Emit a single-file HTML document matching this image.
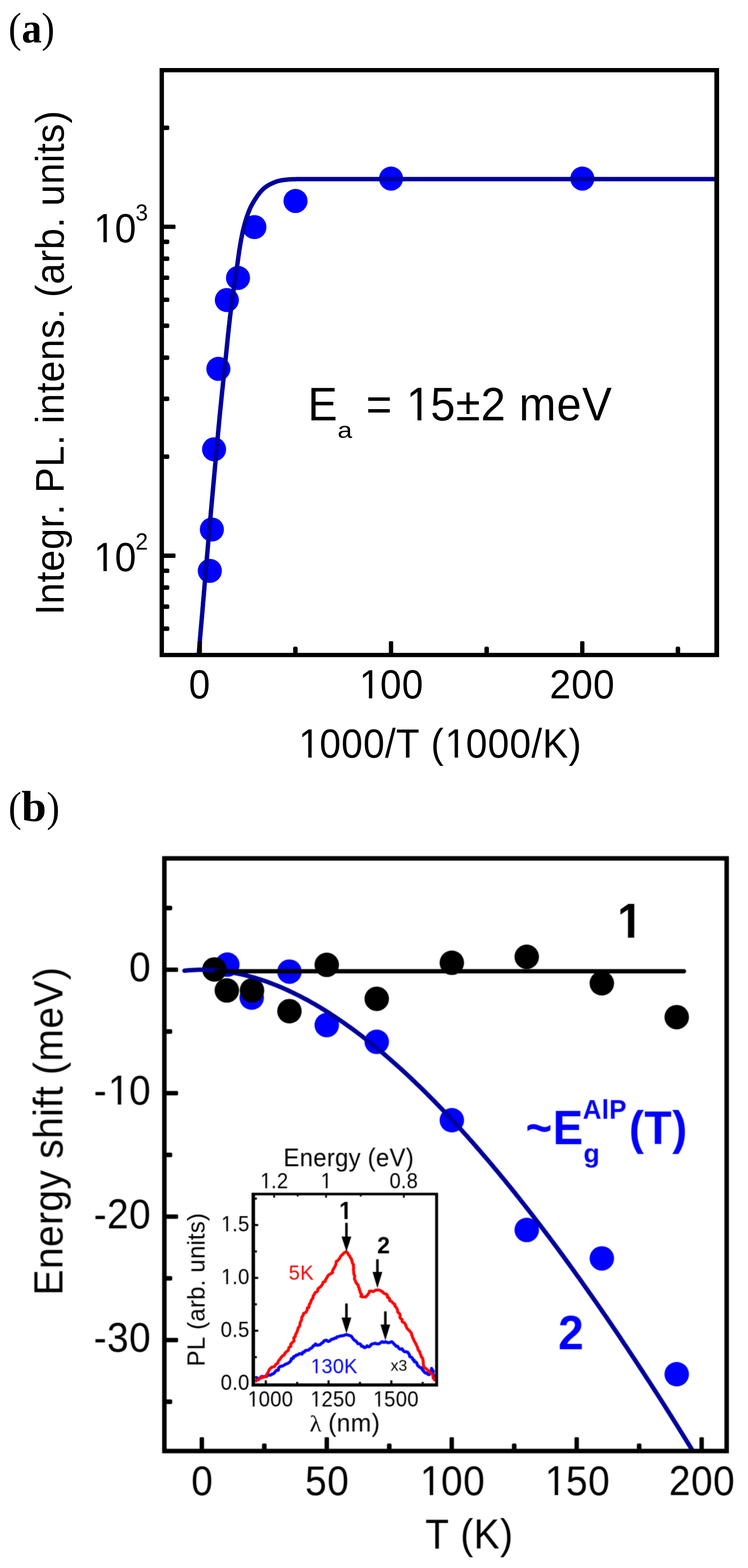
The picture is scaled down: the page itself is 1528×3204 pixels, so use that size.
<!DOCTYPE html>
<html lang="en"><head><meta charset="utf-8"><title>Figure</title>
<style>html,body{margin:0;padding:0;background:#fff}svg{display:block}</style></head>
<body>
<svg width="1528" height="3204" viewBox="0 0 1528 3204">
<rect width="1528" height="3204" fill="#fff"/>
<text font-family="'Liberation Serif', serif" fill="#000"><tspan x="17.17" y="86.46" font-size="86.11" font-weight="normal" textLength="26.69" lengthAdjust="spacingAndGlyphs">(</tspan><tspan x="44.27" y="86.53" font-size="86.85" font-weight="bold" textLength="41.17" lengthAdjust="spacingAndGlyphs">a</tspan><tspan x="85.05" y="86.46" font-size="86.11" font-weight="normal" textLength="26.56" lengthAdjust="spacingAndGlyphs">)</tspan></text>
<text font-family="'Liberation Serif', serif" fill="#000"><tspan x="17.17" y="1677.61" font-size="86.33" font-weight="normal" textLength="26.69" lengthAdjust="spacingAndGlyphs">(</tspan><tspan x="43.81" y="1678.30" font-size="89.91" font-weight="bold" textLength="50.97" lengthAdjust="spacingAndGlyphs">b</tspan><tspan x="95.15" y="1677.61" font-size="86.33" font-weight="normal" textLength="26.56" lengthAdjust="spacingAndGlyphs">)</tspan></text>
<g id="panelA">
<clipPath id="clipA"><rect x="330.45" y="143.45" width="1133.7" height="1194.8999999999999"/></clipPath>
<circle cx="1189.6" cy="364.9" r="24.6" fill="#0000ff"/>
<circle cx="798.8" cy="364.9" r="24.6" fill="#0000ff"/>
<circle cx="603.7" cy="410.7" r="24.6" fill="#0000ff"/>
<circle cx="519.7" cy="464.0" r="24.6" fill="#0000ff"/>
<circle cx="486.2" cy="567.9" r="24.6" fill="#0000ff"/>
<circle cx="463.4" cy="613.1" r="24.6" fill="#0000ff"/>
<circle cx="446.1" cy="753.7" r="24.6" fill="#0000ff"/>
<circle cx="437.3" cy="918.1" r="24.6" fill="#0000ff"/>
<circle cx="432.8" cy="1082.0" r="24.6" fill="#0000ff"/>
<circle cx="428.6" cy="1166.5" r="24.6" fill="#0000ff"/>
<polyline points="403.4,1370.0 403.7,1366.0 404.1,1362.0 404.4,1358.0 404.7,1354.0 405.0,1350.0 405.3,1346.0 405.7,1342.0 406.0,1338.0 406.3,1334.0 406.6,1330.0 406.9,1326.0 407.2,1322.0 407.5,1318.0 407.8,1314.0 408.2,1310.0 408.5,1306.0 408.8,1302.0 409.2,1298.0 409.5,1294.0 409.9,1290.0 410.2,1286.0 410.6,1282.0 410.9,1278.0 411.3,1274.0 411.6,1270.0 412.0,1266.0 412.3,1262.0 412.7,1258.0 413.0,1254.0 413.4,1250.0 413.7,1246.0 414.0,1242.0 414.4,1238.0 414.7,1234.0 415.0,1230.0 415.4,1226.0 415.7,1222.0 416.1,1218.0 416.4,1214.0 416.7,1210.0 417.1,1206.0 417.4,1202.0 417.7,1198.0 418.1,1194.0 418.4,1190.0 418.7,1186.0 419.1,1182.0 419.4,1178.0 419.8,1174.0 420.1,1170.0 420.4,1166.0 420.8,1162.0 421.1,1158.0 421.5,1154.0 421.8,1150.0 422.1,1146.0 422.5,1142.0 422.8,1138.0 423.2,1134.0 423.5,1130.0 423.9,1126.0 424.2,1122.0 424.5,1118.0 424.9,1114.0 425.2,1110.0 425.6,1106.0 425.9,1102.0 426.3,1098.0 426.6,1094.0 427.0,1090.0 427.3,1086.0 427.7,1082.0 428.0,1078.0 428.4,1074.0 428.7,1070.0 429.1,1066.0 429.5,1062.0 429.8,1058.0 430.2,1054.0 430.5,1050.0 430.9,1046.0 431.2,1042.0 431.6,1038.0 432.0,1034.0 432.3,1030.0 432.7,1026.0 433.0,1022.0 433.4,1018.0 433.8,1014.0 434.1,1010.0 434.5,1006.0 434.8,1002.0 435.2,998.0 435.6,994.0 435.9,990.0 436.3,986.0 436.7,982.0 437.0,978.0 437.4,974.0 437.8,970.0 438.1,966.0 438.5,962.0 438.9,958.0 439.2,954.0 439.6,950.0 440.0,946.0 440.3,942.0 440.7,938.0 441.0,934.0 441.4,930.0 441.8,926.0 442.1,922.0 442.5,918.0 442.9,914.0 443.2,910.0 443.6,906.0 444.0,902.0 444.3,898.0 444.7,894.0 445.1,890.0 445.4,886.0 445.8,882.0 446.2,878.0 446.5,874.0 446.9,870.0 447.3,866.0 447.7,862.0 448.0,858.0 448.4,854.0 448.8,850.0 449.2,846.0 449.6,842.0 450.0,838.0 450.4,834.0 450.8,830.0 451.2,826.0 451.6,822.0 452.0,818.0 452.4,814.0 452.8,810.0 453.2,806.0 453.6,802.0 454.0,798.0 454.5,794.0 454.9,790.0 455.3,786.0 455.7,782.0 456.2,778.0 456.6,774.0 457.0,770.0 457.4,766.0 457.9,762.0 458.3,758.0 458.7,754.0 459.1,750.0 459.6,746.0 460.0,742.0 460.4,738.0 460.8,734.0 461.2,730.0 461.7,726.0 462.1,722.0 462.5,718.0 462.9,714.0 463.3,710.0 463.7,706.0 464.1,702.0 464.5,698.0 464.9,694.0 465.3,690.0 465.7,686.0 466.1,682.0 466.6,678.0 467.0,674.0 467.4,670.0 467.8,666.0 468.3,662.0 468.7,658.0 469.2,654.0 469.6,650.0 470.1,646.0 470.6,642.0 471.1,638.0 471.5,634.0 472.0,630.0 472.6,626.0 473.1,622.0 473.6,618.0 474.2,614.0 474.7,610.0 475.3,606.0 475.8,602.0 476.4,598.0 477.0,594.0 477.6,590.0 478.1,586.0 478.7,582.0 479.3,578.0 479.9,574.0 480.5,570.0 481.1,566.0 481.7,562.0 482.3,558.0 482.9,554.0 483.5,550.0 484.0,546.0 484.6,542.0 485.2,538.0 485.7,534.0 486.3,530.0 486.8,526.0 487.4,522.0 488.0,518.0 488.5,514.0 489.1,510.0 489.8,506.0 490.4,502.0 491.1,498.0 491.8,494.0 492.5,490.0 493.3,486.0 494.1,482.0 494.9,478.0 495.7,474.0 496.6,470.0 497.6,466.0 498.6,462.0 499.7,458.0 500.8,454.0 502.0,450.0 503.3,446.0 504.6,442.0 506.0,438.0 507.5,434.0 509.1,430.0 510.8,426.0 512.1,423.0 513.6,420.2 515.1,417.5 516.6,414.8 518.1,412.2 519.6,409.7 521.1,407.3 522.6,405.0 524.1,402.8 525.6,400.6 527.1,398.5 528.6,396.4 530.1,394.5 531.6,392.7 533.1,391.0 534.6,389.4 536.1,387.9 537.6,386.4 539.1,385.0 540.6,383.7 542.1,382.5 543.6,381.4 545.1,380.4 546.6,379.4 548.1,378.5 549.6,377.7 551.1,376.9 552.6,376.2 554.1,375.4 555.6,374.8 557.1,374.1 558.6,373.4 560.1,372.8 561.6,372.2 563.1,371.6 564.6,371.0 566.1,370.5 567.6,370.1 569.1,369.7 570.6,369.4 572.1,369.0 573.6,368.7 575.1,368.5 576.6,368.2 578.1,368.0 579.6,367.8 581.1,367.6 582.6,367.5 584.1,367.3 585.6,367.1 587.1,367.0 588.6,366.8 590.1,366.7 591.6,366.6 593.1,366.5 594.6,366.4 596.1,366.3 597.6,366.3 599.1,366.3 600.6,366.2 602.1,366.2 603.6,366.2 605.1,366.1 606.6,366.1 608.1,366.1 609.6,366.1 611.1,366.1 612.6,366.1 614.1,366.0 615.6,366.0 617.1,366.0 618.6,366.0 620.1,366.0 621.6,366.0 623.1,366.0 624.6,366.0 626.1,366.0 627.6,366.0 629.1,366.0 630.6,366.0 632.1,366.0 633.6,366.0 635.1,366.0 636.6,366.0 638.1,366.0 639.6,366.0 1470.0,366.0" fill="none" stroke="#00009b" stroke-width="9.0" stroke-linejoin="round" stroke-linecap="butt" clip-path="url(#clipA)"/>
<rect x="332.85" y="1131.10" width="25.70" height="8.80" rx="1.8" ry="1.8" fill="#000"/>
<rect x="332.85" y="459.00" width="25.70" height="8.80" rx="1.8" ry="1.8" fill="#000"/>
<rect x="332.85" y="1280.00" width="13.00" height="9.20" rx="3.2" ry="3.2" fill="#000"/>
<rect x="332.85" y="1235.01" width="13.00" height="9.20" rx="3.2" ry="3.2" fill="#000"/>
<rect x="332.85" y="1196.03" width="13.00" height="9.20" rx="3.2" ry="3.2" fill="#000"/>
<rect x="332.85" y="1161.65" width="13.00" height="9.20" rx="3.2" ry="3.2" fill="#000"/>
<rect x="332.85" y="928.58" width="13.00" height="9.20" rx="3.2" ry="3.2" fill="#000"/>
<rect x="332.85" y="810.23" width="13.00" height="9.20" rx="3.2" ry="3.2" fill="#000"/>
<rect x="332.85" y="726.26" width="13.00" height="9.20" rx="3.2" ry="3.2" fill="#000"/>
<rect x="332.85" y="661.12" width="13.00" height="9.20" rx="3.2" ry="3.2" fill="#000"/>
<rect x="332.85" y="607.90" width="13.00" height="9.20" rx="3.2" ry="3.2" fill="#000"/>
<rect x="332.85" y="562.91" width="13.00" height="9.20" rx="3.2" ry="3.2" fill="#000"/>
<rect x="332.85" y="523.93" width="13.00" height="9.20" rx="3.2" ry="3.2" fill="#000"/>
<rect x="332.85" y="489.55" width="13.00" height="9.20" rx="3.2" ry="3.2" fill="#000"/>
<rect x="332.85" y="256.48" width="13.00" height="9.20" rx="3.2" ry="3.2" fill="#000"/>
<rect x="403.70" y="1310.35" width="8.80" height="25.60" rx="1.8" ry="1.8" fill="#000"/>
<rect x="794.40" y="1310.35" width="8.80" height="25.60" rx="1.8" ry="1.8" fill="#000"/>
<rect x="1185.10" y="1310.35" width="8.80" height="25.60" rx="1.8" ry="1.8" fill="#000"/>
<rect x="598.85" y="1321.35" width="9.20" height="14.60" rx="3.6" ry="3.6" fill="#000"/>
<rect x="989.55" y="1321.35" width="9.20" height="14.60" rx="3.6" ry="3.6" fill="#000"/>
<rect x="1380.25" y="1321.35" width="9.20" height="14.60" rx="3.6" ry="3.6" fill="#000"/>
<path d="M326,139.1H1469V1342.7H326Z M334.9,147.8V1334H1459.3V147.8Z" fill="#000" fill-rule="evenodd"/>
<text xml:space="preserve" style="white-space:pre" transform="translate(385.81,1427.00) scale(0.9341,1)" x="0.00" y="0" font-family="'Liberation Sans', sans-serif" font-size="83.5" font-weight="normal" fill="#000" >0</text>
<text xml:space="preserve" style="white-space:pre" transform="translate(733.94,1427.00) scale(0.9341,1)" x="0.00 45.57 93.20" y="0" font-family="'Liberation Sans', sans-serif" font-size="83.5" font-weight="normal" fill="#000" >100</text>
<text xml:space="preserve" style="white-space:pre" transform="translate(1122.72,1427.00) scale(0.9341,1)" x="0.00 47.63 95.26" y="0" font-family="'Liberation Sans', sans-serif" font-size="83.5" font-weight="normal" fill="#000" >200</text>
<text xml:space="preserve" style="white-space:pre" transform="translate(609.99,1548.00) scale(0.9433,1)" x="0.00 45.30 92.65 139.99 187.04 211.04 262.69 286.40 317.03 362.33 409.67 457.02 504.07 528.13 584.56" y="0" font-family="'Liberation Sans', sans-serif" font-size="83" font-weight="normal" fill="#000" >1000/T (1000/K)</text>
<text xml:space="preserve" style="white-space:pre" transform="translate(191.55,494.50) scale(0.9456,1)" x="0.00 45.30" y="0" font-family="'Liberation Sans', sans-serif" font-size="83" font-weight="normal" fill="#000" >10</text>
<text xml:space="preserve" style="white-space:pre" transform="translate(276.83,450.60) scale(0.9448,1)" x="0.00" y="0" font-family="'Liberation Sans', sans-serif" font-size="48.5" font-weight="normal" fill="#000" >3</text>
<text xml:space="preserve" style="white-space:pre" transform="translate(191.55,1166.60) scale(0.9456,1)" x="0.00 45.30" y="0" font-family="'Liberation Sans', sans-serif" font-size="83" font-weight="normal" fill="#000" >10</text>
<text xml:space="preserve" style="white-space:pre" transform="translate(276.83,1122.70) scale(0.9448,1)" x="0.00" y="0" font-family="'Liberation Sans', sans-serif" font-size="48.5" font-weight="normal" fill="#000" >2</text>
<text xml:space="preserve" style="white-space:pre" transform="rotate(-90 129.60 1257.00) translate(129.88,1257.00) scale(0.9506,1)" x="0.00 23.66 70.14 93.80 140.57 187.11 215.06 238.43 262.20 318.18 364.66 388.03 411.34 430.37 476.85 500.51 547.29 594.00 635.82 659.19 682.61 710.85 757.39 785.63 832.11 855.48 879.14 925.91 972.34 991.08 1014.68 1056.56" y="0" font-family="'Liberation Sans', sans-serif" font-size="82" font-weight="normal" fill="#000" >Integr. PL. intens. (arb. units)</text>
<text xml:space="preserve" style="white-space:pre" transform="translate(628.78,858.60) scale(0.9396,1)" x="0.00" y="0" font-family="'Liberation Sans', sans-serif" font-size="96.5" font-weight="normal" fill="#000" >E</text>
<text xml:space="preserve" style="white-space:pre" transform="translate(689.61,894.60) scale(1.1410,1)" x="0.00" y="0" font-family="'Liberation Sans', sans-serif" font-size="47" font-weight="normal" fill="#000" >a</text>
<text xml:space="preserve" style="white-space:pre" transform="translate(721.50,858.60) scale(0.9396,1)" x="0.00 27.88 85.30 115.52 168.19 223.22 277.55 332.25 360.44 442.54 497.72" y="0" font-family="'Liberation Sans', sans-serif" font-size="96.5" font-weight="normal" fill="#000" > = 15±2 meV</text>
<rect x="738.38" y="1419.46" width="15.17" height="8.54" fill="#fff"/>
<rect x="760.45" y="1419.46" width="14.56" height="8.54" fill="#fff"/>
<rect x="614.45" y="1540.50" width="15.22" height="8.50" fill="#fff"/>
<rect x="636.59" y="1540.50" width="14.61" height="8.50" fill="#fff"/>
<rect x="913.50" y="1540.50" width="15.22" height="8.50" fill="#fff"/>
<rect x="935.64" y="1540.50" width="14.61" height="8.50" fill="#fff"/>
<rect x="196.03" y="487.00" width="15.26" height="8.50" fill="#fff"/>
<rect x="218.22" y="487.00" width="14.65" height="8.50" fill="#fff"/>
<rect x="196.03" y="1159.10" width="15.26" height="8.50" fill="#fff"/>
<rect x="218.22" y="1159.10" width="14.65" height="8.50" fill="#fff"/>
<rect x="835.45" y="850.09" width="17.39" height="9.51" fill="#fff"/>
<rect x="860.86" y="850.09" width="16.69" height="9.51" fill="#fff"/>
</g>
<filter id="soft" x="-2%" y="-2%" width="104%" height="104%" color-interpolation-filters="sRGB"><feGaussianBlur stdDeviation="1" result="b"/><feComposite in="SourceGraphic" in2="b" operator="arithmetic" k1="0" k2="0.5" k3="0.5" k4="0"/></filter>
<g id="panelB" filter="url(#soft)">
<clipPath id="clipB"><rect x="335.8" y="1754.0" width="1148.6000000000001" height="1211.0"/></clipPath>
<circle cx="464.4" cy="1971.1" r="25.0" fill="#0000ff"/>
<circle cx="514.2" cy="2038.5" r="25.0" fill="#0000ff"/>
<circle cx="591.3" cy="1985.4" r="25.0" fill="#0000ff"/>
<circle cx="667.5" cy="2094.6" r="25.0" fill="#0000ff"/>
<circle cx="769.6" cy="2128.8" r="25.0" fill="#0000ff"/>
<circle cx="923.0" cy="2289.0" r="25.0" fill="#0000ff"/>
<circle cx="1076.0" cy="2513.3" r="25.0" fill="#0000ff"/>
<circle cx="1229.4" cy="2571.4" r="25.0" fill="#0000ff"/>
<circle cx="1382.4" cy="2808.0" r="25.0" fill="#0000ff"/>
<circle cx="438.0" cy="1980.9" r="25.0" fill="#000"/>
<circle cx="463.4" cy="2023.8" r="25.0" fill="#000"/>
<circle cx="514.8" cy="2023.8" r="25.0" fill="#000"/>
<circle cx="591.3" cy="2066.2" r="25.0" fill="#000"/>
<circle cx="667.5" cy="1971.6" r="25.0" fill="#000"/>
<circle cx="769.6" cy="2040.9" r="25.0" fill="#000"/>
<circle cx="923.0" cy="1967.3" r="25.0" fill="#000"/>
<circle cx="1076.0" cy="1955.1" r="25.0" fill="#000"/>
<circle cx="1229.4" cy="2009.2" r="25.0" fill="#000"/>
<circle cx="1382.4" cy="2078.4" r="25.0" fill="#000"/>
<polyline points="376.8,1983.5 381.9,1983.0 387.0,1982.6 392.1,1982.2 397.2,1981.9 402.3,1981.7 407.5,1981.6 412.6,1981.6 417.7,1981.6 422.8,1981.8 427.9,1982.0 433.0,1982.2 438.1,1982.6 443.2,1983.0 448.3,1983.5 453.4,1984.1 458.5,1984.7 463.6,1985.4 468.7,1986.2 473.8,1987.0 478.9,1988.0 484.0,1989.0 489.1,1990.0 494.2,1991.2 499.3,1992.4 504.4,1993.6 509.6,1995.0 514.7,1996.4 519.8,1997.8 524.9,1999.4 530.0,2001.0 535.1,2002.6 540.2,2004.3 545.3,2006.1 550.4,2008.0 555.5,2009.9 560.6,2011.9 565.7,2013.9 570.8,2016.0 575.9,2018.2 581.0,2020.4 586.1,2022.7 591.2,2025.1 596.3,2027.5 601.4,2029.9 606.5,2032.5 611.7,2035.0 616.8,2037.7 621.9,2040.4 627.0,2043.1 632.1,2045.9 637.2,2048.8 642.3,2051.7 647.4,2054.7 652.5,2057.7 657.6,2060.8 662.7,2063.9 667.8,2067.1 672.9,2070.4 678.0,2073.7 683.1,2077.0 688.2,2080.4 693.3,2083.9 698.4,2087.4 703.5,2090.9 708.6,2094.6 713.8,2098.2 718.9,2101.9 724.0,2105.7 729.1,2109.5 734.2,2113.3 739.3,2117.3 744.4,2121.2 749.5,2125.2 754.6,2129.3 759.7,2133.4 764.8,2137.5 769.9,2141.7 775.0,2145.9 780.1,2150.2 785.2,2154.5 790.3,2158.9 795.4,2163.3 800.5,2167.8 805.6,2172.3 810.7,2176.9 815.9,2181.5 821.0,2186.1 826.1,2190.8 831.2,2195.5 836.3,2200.3 841.4,2205.1 846.5,2210.0 851.6,2214.9 856.7,2219.8 861.8,2224.8 866.9,2229.8 872.0,2234.9 877.1,2240.0 882.2,2245.2 887.3,2250.3 892.4,2255.6 897.5,2260.8 902.6,2266.2 907.7,2271.5 912.8,2276.9 918.0,2282.3 923.1,2287.8 928.2,2293.3 933.3,2298.8 938.4,2304.4 943.5,2310.0 948.6,2315.7 953.7,2321.3 958.8,2327.1 963.9,2332.8 969.0,2338.6 974.1,2344.5 979.2,2350.3 984.3,2356.3 989.4,2362.2 994.5,2368.2 999.6,2374.2 1004.7,2380.2 1009.8,2386.3 1014.9,2392.4 1020.1,2398.6 1025.2,2404.8 1030.3,2411.0 1035.4,2417.3 1040.5,2423.5 1045.6,2429.9 1050.7,2436.2 1055.8,2442.6 1060.9,2449.0 1066.0,2455.5 1071.1,2462.0 1076.2,2468.5 1081.3,2475.0 1086.4,2481.6 1091.5,2488.2 1096.6,2494.9 1101.7,2501.5 1106.8,2508.3 1111.9,2515.0 1117.0,2521.8 1122.2,2528.6 1127.3,2535.4 1132.4,2542.2 1137.5,2549.1 1142.6,2556.0 1147.7,2563.0 1152.8,2570.0 1157.9,2577.0 1163.0,2584.0 1168.1,2591.1 1173.2,2598.2 1178.3,2605.3 1183.4,2612.4 1188.5,2619.6 1193.6,2626.8 1198.7,2634.1 1203.8,2641.3 1208.9,2648.6 1214.0,2655.9 1219.1,2663.3 1224.3,2670.7 1229.4,2678.1 1234.5,2685.5 1239.6,2692.9 1244.7,2700.4 1249.8,2707.9 1254.9,2715.5 1260.0,2723.0 1265.1,2730.6 1270.2,2738.2 1275.3,2745.9 1280.4,2753.5 1285.5,2761.2 1290.6,2768.9 1295.7,2776.7 1300.8,2784.4 1305.9,2792.2 1311.0,2800.0 1316.1,2807.9 1321.2,2815.7 1326.4,2823.6 1331.5,2831.5 1336.6,2839.5 1341.7,2847.4 1346.8,2855.4 1351.9,2863.4 1357.0,2871.4 1362.1,2879.5 1367.2,2887.6 1372.3,2895.7 1377.4,2903.8 1382.5,2911.9 1387.6,2920.1 1392.7,2928.3 1397.8,2936.5 1402.9,2944.8 1408.0,2953.0 1413.1,2961.3 1418.2,2969.6 1423.3,2977.9 1428.5,2986.3" fill="none" stroke="#00009b" stroke-width="9.0" stroke-linejoin="round" stroke-linecap="round" clip-path="url(#clipB)"/>
<line x1="442.6" y1="1984.6" x2="1397.2" y2="1984.6" stroke="#000" stroke-width="8.8" stroke-linecap="round"/>
<rect x="338.40" y="1977.10" width="25.40" height="9.00" rx="2.2" ry="2.2" fill="#000"/>
<rect x="338.40" y="2229.30" width="25.40" height="9.00" rx="2.2" ry="2.2" fill="#000"/>
<rect x="338.40" y="2481.50" width="25.40" height="9.00" rx="2.2" ry="2.2" fill="#000"/>
<rect x="338.40" y="2733.70" width="25.40" height="9.00" rx="2.2" ry="2.2" fill="#000"/>
<rect x="338.40" y="1850.80" width="13.40" height="9.40" rx="3.2" ry="3.2" fill="#000"/>
<rect x="338.40" y="2103.00" width="13.40" height="9.40" rx="3.2" ry="3.2" fill="#000"/>
<rect x="338.40" y="2355.20" width="13.40" height="9.40" rx="3.2" ry="3.2" fill="#000"/>
<rect x="338.40" y="2607.40" width="13.40" height="9.40" rx="3.2" ry="3.2" fill="#000"/>
<rect x="338.40" y="2859.60" width="13.40" height="9.40" rx="3.2" ry="3.2" fill="#000"/>
<rect x="407.80" y="2936.80" width="9.00" height="25.60" rx="2.2" ry="2.2" fill="#000"/>
<rect x="663.05" y="2936.80" width="9.00" height="25.60" rx="2.2" ry="2.2" fill="#000"/>
<rect x="918.30" y="2936.80" width="9.00" height="25.60" rx="2.2" ry="2.2" fill="#000"/>
<rect x="1173.55" y="2936.80" width="9.00" height="25.60" rx="2.2" ry="2.2" fill="#000"/>
<rect x="1428.80" y="2936.80" width="9.00" height="25.60" rx="2.2" ry="2.2" fill="#000"/>
<rect x="535.23" y="2949.40" width="9.40" height="13.00" rx="3.4" ry="3.4" fill="#000"/>
<rect x="790.48" y="2949.40" width="9.40" height="13.00" rx="3.4" ry="3.4" fill="#000"/>
<rect x="1045.72" y="2949.40" width="9.40" height="13.00" rx="3.4" ry="3.4" fill="#000"/>
<rect x="1300.98" y="2949.40" width="9.40" height="13.00" rx="3.4" ry="3.4" fill="#000"/>
<rect x="335.8" y="1754.0" width="1148.6000000000001" height="1211.0" fill="none" stroke="#000" stroke-width="9.2"/>
<text xml:space="preserve" style="white-space:pre" transform="translate(390.64,3054.90) scale(0.9291,1)" x="0.00" y="0" font-family="'Liberation Sans', sans-serif" font-size="85" font-weight="normal" fill="#000" >0</text>
<text xml:space="preserve" style="white-space:pre" transform="translate(623.36,3054.90) scale(0.9291,1)" x="0.00 48.49" y="0" font-family="'Liberation Sans', sans-serif" font-size="85" font-weight="normal" fill="#000" >50</text>
<text xml:space="preserve" style="white-space:pre" transform="translate(858.03,3054.90) scale(0.9291,1)" x="0.00 46.39 94.88" y="0" font-family="'Liberation Sans', sans-serif" font-size="85" font-weight="normal" fill="#000" >100</text>
<text xml:space="preserve" style="white-space:pre" transform="translate(1113.28,3054.90) scale(0.9291,1)" x="0.00 46.39 94.88" y="0" font-family="'Liberation Sans', sans-serif" font-size="85" font-weight="normal" fill="#000" >150</text>
<text xml:space="preserve" style="white-space:pre" transform="translate(1366.59,3054.90) scale(0.9291,1)" x="0.00 48.49 96.97" y="0" font-family="'Liberation Sans', sans-serif" font-size="85" font-weight="normal" fill="#000" >200</text>
<text xml:space="preserve" style="white-space:pre" transform="translate(868.82,3163.70) scale(0.9291,1)" x="0.00 52.89 77.17 106.57 164.35" y="0" font-family="'Liberation Sans', sans-serif" font-size="85" font-weight="normal" fill="#000" >T (K)</text>
<text xml:space="preserve" style="white-space:pre" transform="translate(263.81,2005.20) scale(0.9291,1)" x="0.00" y="0" font-family="'Liberation Sans', sans-serif" font-size="85" font-weight="normal" fill="#000" >0</text>
<text xml:space="preserve" style="white-space:pre" transform="translate(191.57,2257.40) scale(0.9291,1)" x="0.00 31.37 77.76" y="0" font-family="'Liberation Sans', sans-serif" font-size="85" font-weight="normal" fill="#000" >-10</text>
<text xml:space="preserve" style="white-space:pre" transform="translate(191.57,2509.60) scale(0.9291,1)" x="0.00 29.27 77.76" y="0" font-family="'Liberation Sans', sans-serif" font-size="85" font-weight="normal" fill="#000" >-20</text>
<text xml:space="preserve" style="white-space:pre" transform="translate(191.57,2761.80) scale(0.9291,1)" x="0.00 29.27 77.76" y="0" font-family="'Liberation Sans', sans-serif" font-size="85" font-weight="normal" fill="#000" >-30</text>
<text xml:space="preserve" style="white-space:pre" transform="rotate(-90 127.50 2647.60) translate(128.18,2647.60) scale(0.9527,1)" x="0.00 56.66 104.01 151.11 179.70 226.98 269.31 293.20 335.82 382.81 401.78 425.43 449.09 472.80 501.68 572.29 619.76 676.18" y="0" font-family="'Liberation Sans', sans-serif" font-size="83" font-weight="normal" fill="#000" >Energy shift (meV)</text>
<text xml:space="preserve" style="white-space:pre" transform="translate(1260.89,1916.40) scale(0.9360,1)" x="0.00" y="0" font-family="'Liberation Sans', sans-serif" font-size="100" font-weight="bold" fill="#000" >1</text>
<text xml:space="preserve" style="white-space:pre" transform="translate(1140.27,2757.40) scale(0.9551,1)" x="0.00" y="0" font-family="'Liberation Sans', sans-serif" font-size="98" font-weight="bold" fill="#0000ff" >2</text>
<text xml:space="preserve" style="white-space:pre" transform="translate(1073.69,2338.30) scale(0.9356,1)" x="0.00 59.40" y="0" font-family="'Liberation Sans', sans-serif" font-size="99" font-weight="bold" fill="#0000ff" >~E</text>
<text xml:space="preserve" style="white-space:pre" transform="translate(1190.49,2286.20) scale(0.9486,1)" x="0.00 40.79 56.88" y="0" font-family="'Liberation Sans', sans-serif" font-size="55.5" font-weight="bold" fill="#0000ff" >AlP</text>
<text xml:space="preserve" style="white-space:pre" transform="translate(1284.89,2338.30) scale(0.9398,1)" x="0.00 33.48 93.90" y="0" font-family="'Liberation Sans', sans-serif" font-size="97" font-weight="bold" fill="#0000ff" >(T)</text>
<text xml:space="preserve" style="white-space:pre" transform="translate(1192.00,2375.00) scale(1.0000,1)" x="0.00" y="0" font-family="'Liberation Sans', sans-serif" font-size="54" font-weight="bold" fill="#0000ff" >g</text>
<clipPath id="clipI"><rect x="518.0" y="2439.9" width="374.0" height="390.0999999999999"/></clipPath>
<polyline points="521.4,2815.2 524.2,2814.8 526.2,2816.9 528.6,2818.2 531.7,2815.0 534.4,2812.5 538.0,2812.9 541.1,2812.9 544.2,2813.0 546.8,2810.4 549.8,2809.9 552.9,2809.8 555.3,2808.0 558.4,2807.0 560.7,2804.9 562.6,2802.4 564.7,2800.2 568.6,2799.9 568.9,2795.9 570.7,2793.5 573.6,2791.7 576.9,2791.3 579.7,2789.9 582.3,2788.1 585.3,2786.9 588.2,2785.8 590.7,2783.9 593.0,2782.1 594.6,2779.4 595.4,2776.0 599.1,2775.5 599.9,2772.0 603.2,2771.3 605.1,2768.9 608.2,2768.7 610.3,2766.6 613.2,2766.0 617.1,2767.0 618.5,2763.1 621.8,2762.6 624.0,2759.5 627.3,2759.1 630.6,2758.6 632.8,2756.3 635.5,2755.0 637.9,2753.1 639.6,2750.2 642.9,2749.0 644.5,2746.0 648.1,2749.1 652.3,2748.1 655.1,2746.9 657.2,2744.3 660.3,2742.9 661.9,2739.7 665.3,2738.7 667.2,2738.7 669.2,2740.7 671.8,2741.0 674.9,2739.0 677.3,2736.6 680.8,2736.2 683.5,2734.4 686.3,2734.4 688.2,2731.7 691.0,2731.5 693.5,2730.4 696.2,2729.9 699.1,2729.4 702.0,2729.0 704.7,2727.9 707.6,2727.1 711.1,2728.0 714.4,2729.2 717.8,2730.4 719.0,2732.2 720.7,2734.9 722.7,2737.4 725.0,2739.3 727.5,2740.7 729.3,2742.9 730.8,2745.4 734.2,2745.8 737.0,2747.2 738.4,2751.0 742.0,2751.4 744.3,2753.7 747.8,2752.7 749.8,2750.0 753.6,2752.1 756.1,2750.5 758.3,2747.2 761.3,2745.8 763.6,2745.5 766.3,2744.8 768.9,2745.7 771.6,2746.3 775.1,2745.4 777.9,2743.5 780.6,2741.4 784.0,2743.1 787.8,2741.6 790.8,2743.2 793.9,2743.7 797.2,2742.7 800.4,2741.6 803.1,2744.0 804.9,2746.4 807.1,2748.1 808.5,2750.6 812.1,2750.8 813.5,2753.3 815.1,2755.6 817.6,2756.9 821.4,2756.1 823.6,2759.8 826.4,2762.2 829.9,2762.2 832.9,2763.1 834.7,2765.7 836.4,2768.4 837.0,2772.1 840.4,2773.3 842.4,2775.1 843.1,2778.0 845.9,2779.2 846.2,2782.4 849.7,2783.1 851.3,2785.3 852.2,2788.1 853.5,2790.7 855.8,2792.3 857.8,2794.3 861.1,2795.1 862.4,2798.2 864.5,2800.8 866.6,2803.3 868.6,2805.4 871.6,2805.9 873.8,2808.1 876.7,2808.9 877.5,2806.2 878.9,2803.8 880.2,2801.4 881.7,2799.0 881.6,2796.0 883.3,2799.3 885.3,2802.1 883.9,2806.1 885.1,2809.2 888.0,2811.9 889.8,2815.0" fill="none" stroke="#0000ff" stroke-width="6.2" stroke-linejoin="round" stroke-linecap="butt" clip-path="url(#clipI)"/>
<polyline points="521.4,2823.7 523.1,2821.5 525.3,2819.9 528.3,2819.4 529.7,2816.3 532.8,2816.4 534.5,2813.8 538.4,2814.5 540.9,2812.5 544.1,2811.9 545.1,2807.9 547.3,2805.2 548.6,2802.0 550.0,2798.9 552.2,2796.3 554.5,2794.0 557.7,2793.1 560.8,2792.3 562.5,2789.5 564.1,2787.0 567.4,2785.7 568.0,2782.4 569.5,2779.8 571.8,2777.7 573.3,2775.1 575.2,2772.7 577.3,2770.3 580.7,2768.9 581.8,2765.5 584.0,2763.1 586.3,2760.9 589.2,2759.0 589.6,2755.4 590.9,2752.6 594.3,2751.0 593.6,2747.0 595.8,2744.7 598.0,2742.4 600.6,2740.4 600.2,2736.6 600.2,2733.4 603.2,2731.1 603.5,2727.9 604.7,2725.0 606.4,2722.3 607.3,2719.3 608.5,2716.4 609.1,2713.3 611.4,2710.9 612.7,2708.0 612.8,2704.7 613.5,2701.7 615.3,2699.0 616.2,2696.0 616.2,2692.7 617.6,2689.9 619.6,2687.3 619.8,2684.1 622.5,2682.5 625.4,2681.5 626.5,2678.7 627.7,2676.0 627.7,2672.8 631.2,2671.2 631.4,2668.0 631.9,2665.0 634.2,2662.8 634.9,2659.8 635.8,2656.9 637.6,2654.4 639.5,2651.9 639.5,2648.6 641.3,2646.1 642.8,2643.5 643.8,2641.0 646.6,2640.0 649.1,2637.6 649.4,2633.7 652.0,2631.2 655.1,2629.2 657.2,2626.4 659.2,2623.5 660.1,2619.8 664.3,2618.5 665.0,2615.0 667.0,2612.1 668.6,2609.1 670.6,2605.8 673.7,2603.9 676.7,2602.0 679.6,2600.5 679.1,2597.1 680.6,2594.5 681.8,2591.8 683.6,2589.4 684.7,2586.6 686.0,2583.9 686.6,2580.7 686.9,2577.4 690.4,2575.8 692.0,2573.2 694.1,2570.8 695.5,2567.9 697.4,2565.2 700.2,2563.2 702.1,2560.4 704.9,2559.1 707.5,2557.4 710.3,2560.6 712.0,2564.0 714.2,2566.3 715.6,2569.5 717.8,2572.3 718.4,2575.3 719.5,2578.3 720.0,2581.4 722.1,2584.1 721.9,2587.4 722.6,2590.4 721.8,2593.8 722.5,2597.1 722.6,2600.5 722.9,2603.9 724.7,2607.0 724.2,2610.5 724.1,2613.9 726.0,2617.0 726.9,2620.5 729.2,2623.2 731.7,2625.9 732.1,2629.5 733.8,2632.5 734.2,2635.8 735.7,2638.8 736.2,2642.1 738.9,2644.7 737.1,2648.8 740.9,2650.1 743.9,2649.9 746.7,2650.4 748.3,2648.7 750.5,2646.6 752.1,2644.2 753.9,2641.9 754.4,2638.6 758.4,2638.1 761.7,2639.2 764.6,2637.9 767.5,2636.2 770.6,2636.1 773.5,2636.0 776.2,2636.6 778.7,2638.4 781.4,2639.4 783.3,2642.1 786.2,2643.6 789.5,2644.6 791.6,2647.0 791.2,2650.7 794.5,2652.1 796.0,2654.5 795.9,2657.7 799.0,2659.1 801.4,2660.8 803.2,2663.4 806.5,2665.0 806.6,2668.6 809.1,2671.1 810.9,2673.9 812.0,2677.0 812.3,2680.6 814.7,2683.2 816.9,2685.4 817.5,2688.3 816.9,2691.7 818.3,2694.3 821.6,2696.4 821.5,2700.7 825.2,2702.4 827.6,2705.0 829.0,2708.2 830.1,2711.4 831.5,2714.3 833.6,2716.8 836.3,2718.9 838.2,2721.5 840.5,2723.8 840.7,2727.3 842.2,2730.1 842.7,2733.2 844.8,2735.8 845.3,2738.9 847.1,2741.7 848.8,2744.7 850.3,2747.7 851.7,2750.8 853.3,2753.8 853.7,2757.4 855.5,2760.2 857.9,2762.7 858.2,2766.3 859.9,2769.2 860.6,2772.5 863.1,2774.9 863.7,2778.1 864.6,2781.3 864.5,2784.5 864.8,2787.7 865.5,2790.9 866.4,2794.0 870.2,2796.6 872.2,2798.2 874.0,2800.2 876.5,2801.5 878.3,2804.4 881.2,2806.0 883.5,2808.4 884.6,2812.0 884.9,2815.8 887.2,2818.6 889.4,2821.5" fill="none" stroke="#ff0000" stroke-width="6.0" stroke-linejoin="round" stroke-linecap="butt" clip-path="url(#clipI)"/>
<line x1="707.7" y1="2498.7" x2="707.7" y2="2529.7" stroke="#000" stroke-width="5.2" stroke-linecap="butt"/>
<polygon points="697.7,2526.7 717.7,2526.7 707.7,2557.5" fill="#000"/>
<line x1="771.0" y1="2573.1" x2="771.0" y2="2602.0" stroke="#000" stroke-width="5.2" stroke-linecap="butt"/>
<polygon points="761.0,2599.0 781.0,2599.0 771.0,2632.0" fill="#000"/>
<line x1="707.7" y1="2663.5" x2="707.7" y2="2695.2" stroke="#000" stroke-width="5.2" stroke-linecap="butt"/>
<polygon points="697.7,2692.2 717.7,2692.2 707.7,2724.4" fill="#000"/>
<line x1="787.2" y1="2679.6" x2="787.2" y2="2709.5" stroke="#000" stroke-width="5.2" stroke-linecap="butt"/>
<polygon points="777.2,2706.5 797.2,2706.5 787.2,2738.7" fill="#000"/>
<line x1="518.0" y1="2719.2" x2="527.5" y2="2719.2" stroke="#000" stroke-width="4.2" stroke-linecap="butt"/>
<line x1="518.0" y1="2611.2" x2="527.5" y2="2611.2" stroke="#000" stroke-width="4.2" stroke-linecap="butt"/>
<line x1="518.0" y1="2503.2" x2="527.5" y2="2503.2" stroke="#000" stroke-width="4.2" stroke-linecap="butt"/>
<line x1="518.0" y1="2773.2" x2="524.8" y2="2773.2" stroke="#000" stroke-width="4.2" stroke-linecap="butt"/>
<line x1="518.0" y1="2665.2" x2="524.8" y2="2665.2" stroke="#000" stroke-width="4.2" stroke-linecap="butt"/>
<line x1="518.0" y1="2557.2" x2="524.8" y2="2557.2" stroke="#000" stroke-width="4.2" stroke-linecap="butt"/>
<line x1="518.0" y1="2449.2" x2="524.8" y2="2449.2" stroke="#000" stroke-width="4.2" stroke-linecap="butt"/>
<line x1="543.0" y1="2830.0" x2="543.0" y2="2820.5" stroke="#000" stroke-width="4.2" stroke-linecap="butt"/>
<line x1="671.2" y1="2830.0" x2="671.2" y2="2820.5" stroke="#000" stroke-width="4.2" stroke-linecap="butt"/>
<line x1="799.4" y1="2830.0" x2="799.4" y2="2820.5" stroke="#000" stroke-width="4.2" stroke-linecap="butt"/>
<line x1="607.1" y1="2830.0" x2="607.1" y2="2823.7" stroke="#000" stroke-width="4.2" stroke-linecap="butt"/>
<line x1="735.3" y1="2830.0" x2="735.3" y2="2823.7" stroke="#000" stroke-width="4.2" stroke-linecap="butt"/>
<line x1="863.5" y1="2830.0" x2="863.5" y2="2823.7" stroke="#000" stroke-width="4.2" stroke-linecap="butt"/>
<line x1="560.0" y1="2439.9" x2="560.0" y2="2447.4" stroke="#000" stroke-width="3.6" stroke-linecap="butt"/>
<line x1="666.1" y1="2439.9" x2="666.1" y2="2447.4" stroke="#000" stroke-width="3.6" stroke-linecap="butt"/>
<line x1="825.0" y1="2439.9" x2="825.0" y2="2447.4" stroke="#000" stroke-width="3.6" stroke-linecap="butt"/>
<line x1="608.1" y1="2439.9" x2="608.1" y2="2444.9" stroke="#000" stroke-width="3.6" stroke-linecap="butt"/>
<line x1="736.8" y1="2439.9" x2="736.8" y2="2444.9" stroke="#000" stroke-width="3.6" stroke-linecap="butt"/>
<path d="M513.9,2437.2H894.9V2833.2H513.9Z M521,2442.6V2826.8H888.9V2442.6Z" fill="#000" fill-rule="evenodd"/>
<text xml:space="preserve" style="white-space:pre" transform="translate(450.81,2839.50) scale(0.9418,1)" x="0.00 24.94 37.64" y="0" font-family="'Liberation Sans', sans-serif" font-size="44" font-weight="normal" fill="#000" >0.0</text>
<text xml:space="preserve" style="white-space:pre" transform="translate(450.81,2731.50) scale(0.9418,1)" x="0.00 24.94 37.64" y="0" font-family="'Liberation Sans', sans-serif" font-size="44" font-weight="normal" fill="#000" >0.5</text>
<text xml:space="preserve" style="white-space:pre" transform="translate(451.83,2623.50) scale(0.9418,1)" x="0.00 23.86 36.55" y="0" font-family="'Liberation Sans', sans-serif" font-size="44" font-weight="normal" fill="#000" >1.0</text>
<text xml:space="preserve" style="white-space:pre" transform="translate(451.83,2515.50) scale(0.9418,1)" x="0.00 23.86 36.55" y="0" font-family="'Liberation Sans', sans-serif" font-size="44" font-weight="normal" fill="#000" >1.5</text>
<text xml:space="preserve" style="white-space:pre" transform="translate(505.96,2873.60) scale(0.9481,1)" x="0.00 23.74 48.56 73.37" y="0" font-family="'Liberation Sans', sans-serif" font-size="43.5" font-weight="normal" fill="#000" >1000</text>
<text xml:space="preserve" style="white-space:pre" transform="translate(634.16,2873.60) scale(0.9481,1)" x="0.00 23.74 48.56 73.37" y="0" font-family="'Liberation Sans', sans-serif" font-size="43.5" font-weight="normal" fill="#000" >1250</text>
<text xml:space="preserve" style="white-space:pre" transform="translate(762.36,2873.60) scale(0.9481,1)" x="0.00 23.74 48.56 73.37" y="0" font-family="'Liberation Sans', sans-serif" font-size="43.5" font-weight="normal" fill="#000" >1500</text>
<text xml:space="preserve" style="white-space:pre" transform="translate(531.63,2427.60) scale(0.9414,1)" x="0.00 23.59 36.14" y="0" font-family="'Liberation Sans', sans-serif" font-size="43.5" font-weight="normal" fill="#000" >1.2</text>
<text xml:space="preserve" style="white-space:pre" transform="translate(655.19,2427.60) scale(0.9414,1)" x="0.00" y="0" font-family="'Liberation Sans', sans-serif" font-size="43.5" font-weight="normal" fill="#000" >1</text>
<text xml:space="preserve" style="white-space:pre" transform="translate(795.64,2427.60) scale(0.9414,1)" x="0.00 24.66 37.21" y="0" font-family="'Liberation Sans', sans-serif" font-size="43.5" font-weight="normal" fill="#000" >0.8</text>
<text xml:space="preserve" style="white-space:pre" transform="translate(579.03,2383.40) scale(0.9375,1)" x="0.00 35.50 65.16 94.67 112.58 142.21 168.72 183.58 201.49 231.22 266.57" y="0" font-family="'Liberation Sans', sans-serif" font-size="52" font-weight="normal" fill="#000" >Energy (eV)</text>
<text transform="translate(632.60,2924.90) scale(0.5000,0.4673)" font-family="'Liberation Serif', serif" font-size="100" font-weight="normal" fill="#000" >λ</text>
<text xml:space="preserve" style="white-space:pre" transform="translate(670.51,2924.50) scale(0.9656,1)" x="0.00 17.91 47.76 91.85" y="0" font-family="'Liberation Sans', sans-serif" font-size="52" font-weight="normal" fill="#000" >(nm)</text>
<text xml:space="preserve" style="white-space:pre" transform="rotate(-90 417.60 2792.50) translate(418.02,2792.50) scale(0.9848,1)" x="0.00 33.79 61.85 75.99 93.04 121.13 138.18 166.24 180.35 194.63 222.86 250.89 262.20 276.45 301.73" y="0" font-family="'Liberation Sans', sans-serif" font-size="49.5" font-weight="normal" fill="#000" >PL (arb. units)</text>
<text xml:space="preserve" style="white-space:pre" transform="translate(589.79,2614.60) scale(0.9523,1)" x="0.00 24.59" y="0" font-family="'Liberation Sans', sans-serif" font-size="43" font-weight="normal" fill="#ff0000" >5K</text>
<text xml:space="preserve" style="white-space:pre" transform="translate(634.78,2805.70) scale(0.9410,1)" x="0.00 23.47 48.00 72.59" y="0" font-family="'Liberation Sans', sans-serif" font-size="43" font-weight="normal" fill="#0000ff" >130K</text>
<text xml:space="preserve" style="white-space:pre" transform="translate(798.00,2801.00) scale(1.0000,1)" x="0.00 16.00" y="0" font-family="'Liberation Sans', sans-serif" font-size="32" font-weight="normal" fill="#000" >x3</text>
<text xml:space="preserve" style="white-space:pre" transform="translate(692.75,2491.30) scale(0.9455,1)" x="0.00" y="0" font-family="'Liberation Sans', sans-serif" font-size="49.5" font-weight="bold" fill="#000" >1</text>
<text xml:space="preserve" style="white-space:pre" transform="translate(770.39,2560.90) scale(0.9551,1)" x="0.00" y="0" font-family="'Liberation Sans', sans-serif" font-size="49" font-weight="bold" fill="#000" >2</text>
<rect x="862.55" y="3047.25" width="15.34" height="8.65" fill="#fff"/>
<rect x="884.87" y="3047.25" width="14.73" height="8.65" fill="#fff"/>
<rect x="1117.80" y="3047.25" width="15.34" height="8.65" fill="#fff"/>
<rect x="1140.12" y="3047.25" width="14.73" height="8.65" fill="#fff"/>
<rect x="225.23" y="2249.75" width="15.34" height="8.65" fill="#fff"/>
<rect x="247.55" y="2249.75" width="14.73" height="8.65" fill="#fff"/>
<rect x="1265.29" y="1904.89" width="17.45" height="12.51" fill="#fff"/>
<rect x="1295.58" y="1904.89" width="16.26" height="12.51" fill="#fff"/>
<rect x="453.49" y="2618.91" width="8.76" height="5.59" fill="#fff"/>
<rect x="465.92" y="2618.91" width="8.44" height="5.59" fill="#fff"/>
<rect x="453.49" y="2510.91" width="8.76" height="5.59" fill="#fff"/>
<rect x="465.92" y="2510.91" width="8.44" height="5.59" fill="#fff"/>
<rect x="507.60" y="2869.05" width="8.73" height="5.55" fill="#fff"/>
<rect x="519.97" y="2869.05" width="8.41" height="5.55" fill="#fff"/>
<rect x="635.80" y="2869.05" width="8.73" height="5.55" fill="#fff"/>
<rect x="648.17" y="2869.05" width="8.41" height="5.55" fill="#fff"/>
<rect x="764.00" y="2869.05" width="8.73" height="5.55" fill="#fff"/>
<rect x="776.37" y="2869.05" width="8.41" height="5.55" fill="#fff"/>
<rect x="533.25" y="2423.05" width="8.68" height="5.55" fill="#fff"/>
<rect x="545.55" y="2423.05" width="8.36" height="5.55" fill="#fff"/>
<rect x="656.81" y="2423.05" width="8.68" height="5.55" fill="#fff"/>
<rect x="669.11" y="2423.05" width="8.36" height="5.55" fill="#fff"/>
<rect x="636.37" y="2801.19" width="8.59" height="5.51" fill="#fff"/>
<rect x="648.54" y="2801.19" width="8.28" height="5.51" fill="#fff"/>
<rect x="694.19" y="2484.95" width="9.48" height="7.35" fill="#fff"/>
<rect x="710.09" y="2484.95" width="8.88" height="7.35" fill="#fff"/>
</g>
</svg>
</body></html>
